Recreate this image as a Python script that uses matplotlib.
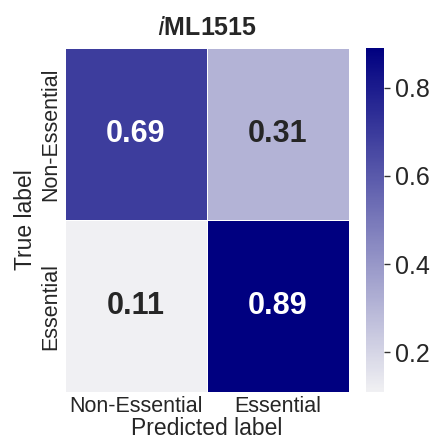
import numpy as np
import matplotlib
matplotlib.use('Agg')
import matplotlib.pyplot as plt
import seaborn as sns

# Confusion matrix values (normalized)
row_labels = ['Non-Essential', 'Essential']
col_labels = ['Non-Essential', 'Essential']
values = [[0.69, 0.31],
          [0.11, 0.89]]

sns.set_style('white')
plt.rcParams['font.family'] = ['Liberation Sans', 'DejaVu Sans']

fig = plt.figure(figsize=(4.36, 4.43), dpi=100)
ax = fig.add_axes([0.149, 0.115, 0.651, 0.777])
cax = fig.add_axes([0.839, 0.115, 0.042, 0.777])

cmap = sns.light_palette('navy', as_cmap=True)
sns.heatmap(np.array(values), ax=ax, cbar_ax=cax, cmap=cmap,
            annot=True, fmt='.2f', linewidths=0.7, linecolor='white',
            annot_kws={'size': 22, 'weight': 'bold'},
            xticklabels=col_labels, yticklabels=row_labels)

ax.set_title(r'$\it{i}$ML1515', fontsize=18, fontweight='bold', pad=9)
ax.set_xlabel('Predicted label', fontsize=16.5, labelpad=0)
ax.set_ylabel('True label', fontsize=16.5, labelpad=2)
ax.tick_params(axis='both', labelsize=15.5, length=0, pad=3)
plt.setp(ax.get_yticklabels(), rotation=90, va='center')
cax.tick_params(labelsize=18, length=4, width=1, color='#333333')

fig.savefig('out.png', dpi=100)
